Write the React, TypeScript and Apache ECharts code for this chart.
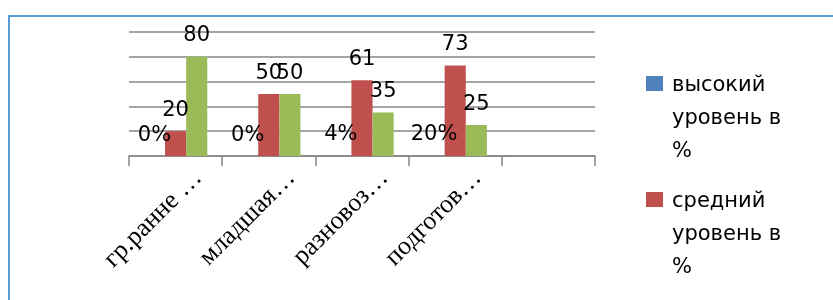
import React, { useEffect, useRef } from "react";
import * as echarts from "echarts";

const categories = ["гр.ранне …", "младшая…", "разновоз…", "подготов…", ""];
const highLevel = [0, 0, 0.04, 0.2];
const midLevel = [20, 50, 61, 73];
const lowLevel = [80, 50, 35, 25];
const seriesNames = ["высокий\nуровень в\n%", "средний\nуровень в\n%", "низкий\nуровень в\n%"];
const colors = ["#4F81BD", "#C0504D", "#9BBB59"];

export default function App() {
  const ref = useRef<HTMLDivElement>(null);
  useEffect(() => {
    if (!ref.current) return;
    const chart = echarts.init(ref.current, null, { renderer: "svg" });
    const labelStyle = {
      show: true,
      position: "top" as const,
      distance: 12,
      fontFamily: "DejaVu Sans",
      fontSize: 21,
      color: "#000",
    };
    const legendText = {
      fontFamily: "DejaVu Sans",
      fontSize: 21,
      lineHeight: 33,
      color: "#000",
      rich: {
        t: {
          fontFamily: "DejaVu Sans",
          fontSize: 21,
          lineHeight: 33,
          color: "#000",
          padding: [0, 0, 0, 4],
        },
      },
    };
    const mkLegend = (name: string, top: number) => ({
      orient: "vertical" as const,
      left: 646,
      top,
      padding: 0,
      itemWidth: 17,
      itemHeight: 15,
      itemGap: 8,
      icon: "rect",
      data: [name],
      textStyle: legendText,
      formatter: (n: string) =>
        "\n\n" + n.split("\n").map((s) => `{t|${s}}`).join("\n"),
    });
    chart.setOption({
      animation: false,
      color: colors,
      graphic: [
        {
          type: "rect",
          shape: { x: 9, y: 16, width: 900, height: 400 },
          style: { fill: "none", stroke: "#5B9BD5", lineWidth: 2 },
          silent: true,
        },
      ],
      legend: [mkLegend(seriesNames[0], 1), mkLegend(seriesNames[1], 117)],
      grid: { left: 129, right: 238, top: 32, bottom: 144, containLabel: false },
      xAxis: {
        type: "category",
        data: categories,
        axisLine: { lineStyle: { color: "#868686", width: 1.5 } },
        axisTick: { show: true, length: 10, lineStyle: { color: "#868686", width: 1.5 } },
        axisLabel: {
          rotate: 45,
          interval: 0,
          margin: 38,
          padding: [0, -30, 0, 0],
          fontFamily: "Liberation Serif",
          fontSize: 26,
          color: "#000",
        },
      },
      yAxis: {
        type: "value",
        min: 0,
        max: 100,
        interval: 20,
        axisLine: { show: false },
        axisTick: { show: false },
        axisLabel: { show: false },
        splitLine: { lineStyle: { color: "#868686", width: 1.5 } },
      },
      series: [
        {
          name: seriesNames[0],
          type: "bar",
          data: highLevel,
          barGap: "0%",
          barCategoryGap: "32%",
          label: {
            ...labelStyle,
            formatter: (p: any) => Math.round(p.value * 100) + "%",
          },
        },
        {
          name: seriesNames[1],
          type: "bar",
          data: midLevel,
          barGap: "0%",
          barCategoryGap: "32%",
          label: labelStyle,
        },
        {
          name: seriesNames[2],
          type: "bar",
          data: lowLevel,
          barGap: "0%",
          barCategoryGap: "32%",
          label: labelStyle,
        },
      ],
    });
    return () => chart.dispose();
  }, []);
  return (
    <div
      ref={ref}
      style={{ position: "fixed", left: 0, top: 0, width: 833, height: 300 }}
    />
  );
}
